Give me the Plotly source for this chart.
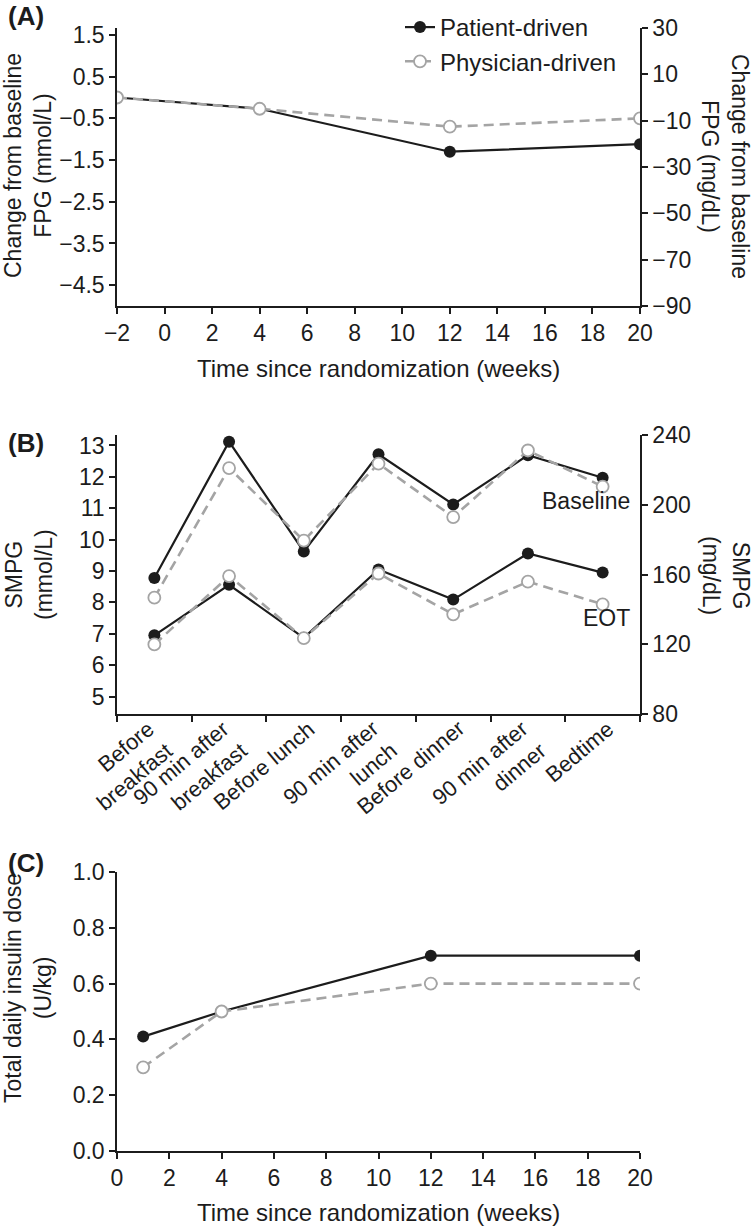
import plotly.graph_objects as go

# (A) change from baseline FPG, mmol/L
weeks_a = [-2, 4, 12, 20]
fpg_patient = [0.0, -0.27, -1.3, -1.12]
fpg_physician = [0.0, -0.27, -0.7, -0.5]

# (B) 7-point SMPG profile, mmol/L
smpg_times = ["Before<br>breakfast", "90 min after<br>breakfast", "Before lunch",
              "90 min after<br>lunch", "Before dinner", "90 min after<br>dinner", "Bedtime"]
base_patient = [8.78, 13.12, 9.62, 12.72, 11.12, 12.69, 11.97]
base_physician = [8.15, 12.28, 9.97, 12.42, 10.72, 12.84, 11.69]
eot_patient = [6.95, 8.56, 6.87, 9.05, 8.09, 9.56, 8.95]
eot_physician = [6.66, 8.84, 6.86, 8.92, 7.62, 8.66, 7.94]

# (C) total daily insulin dose, U/kg
weeks_c = [1, 4, 12, 20]
dose_patient = [0.41, 0.50, 0.70, 0.70]
dose_physician = [0.30, 0.50, 0.60, 0.60]

MG_PER_MMOL = 18.0
W, H = 756, 1227
BLACK = "#1c1c1c"
GREY = "#a4a4a4"
FONT = "Liberation Sans, Arial, sans-serif"


# positions below are measured in window pixels
def px_x(p):
    return p / W


def px_y(p):
    return 1 - p / H


pat_line = dict(color=BLACK, width=2.2)
phy_line = dict(color=GREY, width=2.6, dash="10px,6px")
pat_marker = dict(size=12, color=BLACK)
phy_marker = dict(size=12, color="white", line=dict(color=GREY, width=1.8))

fig = go.Figure()

# panel A
fig.add_trace(go.Scatter(x=weeks_a, y=fpg_patient, mode="lines+markers", name="Patient-driven",
                         line=pat_line, marker=pat_marker, xaxis="x", yaxis="y"))
fig.add_trace(go.Scatter(x=weeks_a, y=fpg_physician, mode="lines+markers", name="Physician-driven",
                         line=phy_line, marker=phy_marker, xaxis="x", yaxis="y"))
fig.add_trace(go.Scatter(x=weeks_a, y=[v * MG_PER_MMOL for v in fpg_patient], mode="markers",
                         marker=dict(opacity=0), showlegend=False, hoverinfo="skip",
                         xaxis="x", yaxis="y2"))

# panel B
for pat, phy in [(base_patient, base_physician), (eot_patient, eot_physician)]:
    fig.add_trace(go.Scatter(x=smpg_times, y=pat, mode="lines+markers", line=pat_line,
                             marker=pat_marker, showlegend=False, xaxis="x2", yaxis="y3"))
    fig.add_trace(go.Scatter(x=smpg_times, y=phy, mode="lines+markers", line=phy_line,
                             marker=phy_marker, showlegend=False, xaxis="x2", yaxis="y3"))
fig.add_trace(go.Scatter(x=smpg_times, y=[v * MG_PER_MMOL for v in base_patient], mode="markers",
                         marker=dict(opacity=0), showlegend=False, hoverinfo="skip",
                         xaxis="x2", yaxis="y4"))

# panel C
fig.add_trace(go.Scatter(x=weeks_c, y=dose_patient, mode="lines+markers", line=pat_line,
                         marker=pat_marker, showlegend=False, xaxis="x3", yaxis="y5"))
fig.add_trace(go.Scatter(x=weeks_c, y=dose_physician, mode="lines+markers", line=phy_line,
                         marker=phy_marker, showlegend=False, xaxis="x3", yaxis="y5"))

x_dom = [px_x(117), px_x(640)]
dom_a = [px_y(306), px_y(28)]
dom_b = [px_y(714), px_y(435)]
dom_c = [px_y(1151), px_y(872)]

ax = dict(showline=True, linecolor=BLACK, linewidth=1.5, ticks="outside", ticklen=6,
          tickwidth=1.5, tickcolor=BLACK, showgrid=False, zeroline=False, automargin=False,
          tickfont=dict(size=23, color=BLACK, family=FONT))

fig.update_layout(
    template="none",
    width=W, height=H, margin=dict(l=0, r=0, t=0, b=0, pad=0), autosize=False,
    paper_bgcolor="white", plot_bgcolor="white",
    font=dict(family=FONT, color=BLACK),
    xaxis=dict(ax, domain=x_dom, anchor="y", range=[-2, 20], dtick=2),
    yaxis=dict(ax, domain=dom_a, anchor="x", range=[-5, 30 / MG_PER_MMOL],
               tickvals=[1.5, 0.5, -0.5, -1.5, -2.5, -3.5, -4.5]),
    yaxis2=dict(ax, overlaying="y", side="right", anchor="x", range=[-90, 30],
                tickvals=[30, 10, -10, -30, -50, -70, -90]),
    xaxis2=dict(ax, domain=x_dom, anchor="y3", type="category", tickson="boundaries",
                range=[-0.5, 6.5], showticklabels=False),
    yaxis3=dict(ax, domain=dom_b, anchor="x2", range=[80 / MG_PER_MMOL, 240 / MG_PER_MMOL],
                tickvals=[5, 6, 7, 8, 9, 10, 11, 12, 13]),
    yaxis4=dict(ax, overlaying="y3", side="right", anchor="x2", range=[80, 240],
                tickvals=[80, 120, 160, 200, 240]),
    xaxis3=dict(ax, domain=x_dom, anchor="y5", range=[0, 20], dtick=2),
    yaxis5=dict(ax, domain=dom_c, anchor="x3", range=[0, 1], dtick=0.2, tickformat=".1f"),
    legend=dict(x=px_x(400), y=px_y(5), xanchor="left", yanchor="top", tracegroupgap=0,
                bgcolor="rgba(0,0,0,0)", font=dict(size=24, color=BLACK)),
)

notes = [
    ("<b>(A)</b>", 6, 16, 0, "left", 26),
    ("<b>(B)</b>", 6, 443, 0, "left", 26),
    ("<b>(C)</b>", 6, 863, 0, "left", 26),
    ("Change from baseline<br>FPG (mmol/L)", 28, 166, -90, "center", 23),
    ("Change from baseline<br>FPG (mg/dL)", 725, 166, 90, "center", 23),
    ("Time since randomization (weeks)", 378, 368, 0, "center", 24),
    ("SMPG<br>(mmol/L)", 29, 575, -90, "center", 23),
    ("SMPG<br>(mg/dL)", 726, 575, 90, "center", 23),
    ("Baseline", 632, 501, 0, "right", 23),
    ("EOT", 632, 618, 0, "right", 23),
    ("Total daily insulin dose<br>(U/kg)", 28, 988, -90, "center", 23),
    ("Time since randomization (weeks)", 378, 1212, 0, "center", 24),
]
for text, x, y, angle, anchor, size in notes:
    fig.add_annotation(text=text, x=px_x(x), y=px_y(y), xref="paper", yref="paper",
                       xanchor=anchor, yanchor="middle", textangle=angle, showarrow=False,
                       font=dict(size=size, color=BLACK, family=FONT))

# rotated, right-aligned category labels under panel B
for cat in smpg_times:
    two_lines = "<br>" in cat
    fig.add_annotation(text=cat, x=cat, y=px_y(713), xref="x2", yref="paper",
                       xanchor="right", yanchor="top", align="right", textangle=-40,
                       xshift=26 if two_lines else 19, showarrow=False,
                       font=dict(size=22, color=BLACK, family=FONT))

# the figure fills the window edge to edge, like the reference image
fig.write_html("out.html", config={"displayModeBar": False},
               post_script="document.body.style.margin = '0';")
